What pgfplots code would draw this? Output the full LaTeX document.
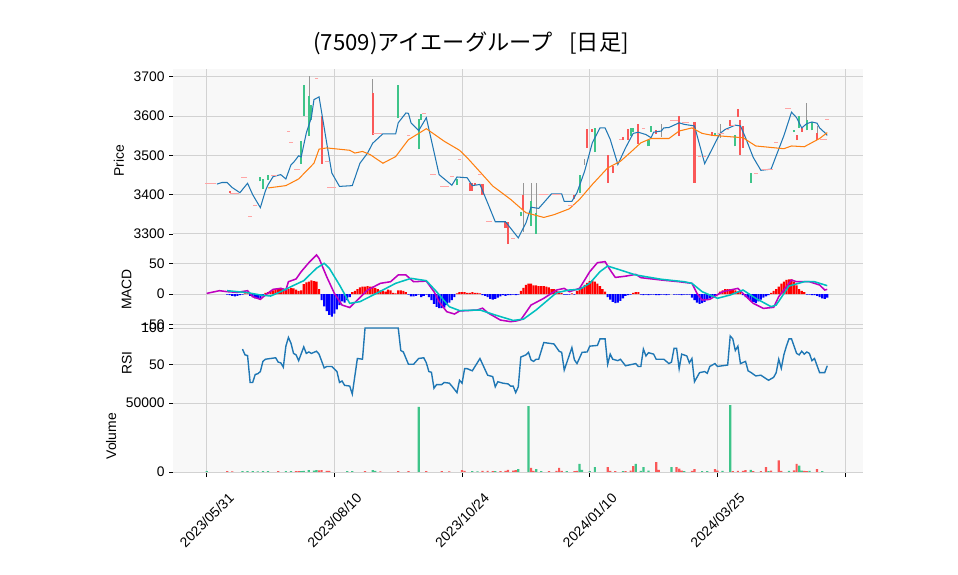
\documentclass[border=0pt]{standalone}
\usepackage{fontspec}
\setmainfont{Liberation Sans}
\newfontfamily\jp{Noto Sans CJK JP}
\usepackage{pgfplots}
\pgfplotsset{compat=1.18}
\definecolor{upg}{RGB}{62,196,137}
\definecolor{dnr}{RGB}{250,88,88}
\definecolor{flat}{RGB}{255,165,165}
\definecolor{wick}{RGB}{150,150,150}
\definecolor{bg}{RGB}{248,248,248}
\definecolor{gridc}{RGB}{210,210,210}
\definecolor{smab}{RGB}{31,119,180}
\definecolor{smao}{RGB}{255,127,14}
\definecolor{macdc}{RGB}{191,0,191}
\definecolor{sigc}{RGB}{0,191,191}
\pgfplotsset{
 panel/.style={
  scale only axis, width=496.44pt, anchor=south west,
  xmin=-13.2, xmax=256.8,
  axis background/.style={fill=bg},
  axis line style={draw=none},
  grid=major, grid style={gridc, line width=0.7pt},
  xtick={0,50,100,150,200,250},
  ytick pos=left, xtick pos=left,
  tick align=outside, major tick length=2.6pt,
  tick style={black, line width=0.6pt},
  tick label style={font=\fontsize{10}{12}\selectfont},
  /pgf/number format/assume math mode=true,
  /pgf/number format/set thousands separator={},
  scaled y ticks=false,
  label style={font=\fontsize{10}{12}\selectfont},
 },
 noxlab/.style={xticklabels={}, major x tick style={draw=none}},
 body/.style={only marks, mark=*, mark size=0.01pt, mark options={draw opacity=0, fill opacity=0}, forget plot, error bars/.cd, y dir=plus, y explicit, error mark=none, error bar style={line width=1.5pt, color=#1, draw opacity=1}},
 wk/.style={only marks, mark=*, mark size=0.01pt, mark options={draw opacity=0, fill opacity=0}, forget plot, error bars/.cd, y dir=plus, y explicit, error mark=none, error bar style={line width=0.5pt, color=wick, draw opacity=1}},
}
\begin{document}
\begin{tikzpicture}
\path[use as bounding box] (0pt,0pt) rectangle (689.76pt,414pt);
\node[font=\jp\fontsize{16}{19}\selectfont] at (339.12pt,383.04pt) {(7509)アイエーグループ\hspace{0.75em}[日足]};
% ---------------- Price ----------------
\begin{axis}[panel, noxlab, at={(124.56pt,232.56pt)}, height=131.76pt,
  ymin=3254, ymax=3720, ytick={3300,3400,3500,3600,3700}, ylabel={Price}]
\addplot[only marks, mark=-, mark size=1.3pt, mark options={line width=0.5pt, color=flat}, forget plot] table {
0 3430
1 3430
2 3430
3 3430
10 3404
11 3404
12 3404
14 3445
15 3445
17 3346
19 3373
26 3449
27 3449
32 3560
33 3534
35 3465
36 3465
43 3695
47 3485
48 3419
49 3419
50 3419
66 3555
67 3555
68 3555
79 3551
85 3608
88 3451
89 3451
92 3422
93 3422
94 3422
96 3447
99 3491
107 3451
110 3331
111 3331
120 3290
131 3400
132 3400
133 3400
136 3400
137 3400
138 3400
142 3372
143 3372
162 3542
171 3570
182 3590
183 3590
184 3590
187 3583
188 3583
193 3498
195 3498
201 3556
202 3556
204 3566
206 3576
215 3455
218 3464
219 3464
220 3464
221 3464
223 3532
227 3619
228 3619
241 3540
242 3540
243 3591
};
\addplot[wk] table[x index=0, y index=1, y error index=2] {
40 3591 111
65 3659 36
124 3305 125
127 3383 47
129 3353 77
148 3476 14
178 3547 34
201 3545 36
235 3590 44
239 3556 20
};
\addplot[body=upg] table[x index=0, y index=1, y error index=2] {
21 3434 11
22 3415 26
24 3438 11
37 3479 57
38 3600 80
40 3549 102
41 3591 38
75 3595 85
83 3515 77
84 3590 16
98 3424 17
123 3345 11
127 3320 63
129 3300 53
146 3405 46
152 3508 62
166 3549 21
167 3559 11
173 3523 17
174 3559 15
199 3551 5
207 3523 28
213 3430 25
230 3559 6
232 3570 30
235 3564 26
237 3564 21
};
\addplot[body=dnr] table[x index=0, y index=1, y error index=2] {
9 3405 5
45 3479 121
65 3553 106
103 3410 20
104 3410 20
105 3424 6
108 3400 26
117 3315 15
118 3274 56
124 3362 38
144 3388 12
149 3519 47
151 3560 6
157 3430 72
159 3455 17
163 3539 7
165 3540 26
169 3530 50
176 3555 9
185 3549 51
191 3430 156
198 3549 11
205 3576 15
208 3598 21
209 3502 89
210 3519 56
231 3539 12
233 3560 10
239 3539 17
};
\addplot[smab, line width=0.75pt, mark=none] table {
4 3427
6 3431
8 3431
10 3418
13 3405
16 3429
18 3400
21 3367
23 3410
24 3425
26 3446
29 3451
31 3440
33 3476
34 3482
36 3499
37 3496
39 3557
41 3597
42 3642
44 3649
45 3610
47 3531
49 3455
52 3421
57 3423
60 3480
63 3506
65 3531
69 3555
74 3555
75 3583
78 3608
79 3607
80 3583
83 3563
86 3596
91 3451
96 3424
98 3445
102 3443
104 3423
107 3426
110 3379
113 3331
117 3331
122 3290
125 3328
127 3368
130 3365
135 3402
139 3402
140 3383
143 3383
145 3405
148 3460
151 3532
154 3570
156 3570
158 3541
161 3477
164 3519
167 3556
169 3559
172 3553
174 3545
175 3559
178 3562
179 3570
181 3571
185 3583
187 3579
190 3576
191 3575
195 3479
201 3556
203 3566
207 3577
209 3575
211 3545
214 3495
217 3462
221 3465
226 3550
229 3610
231 3596
233 3570
235 3581
237 3585
239 3582
240 3570
242 3558
243 3551
};
\addplot[smao, line width=0.75pt, mark=none] table {
24 3417
31 3423
36 3440
42 3480
44 3516
47 3519
56 3513
58 3506
61 3510
64 3502
69 3480
74 3497
77 3523
79 3540
86 3568
93 3536
99 3513
102 3494
108 3451
112 3422
119 3388
125 3354
132 3342
136 3349
142 3364
146 3388
151 3426
157 3468
162 3485
166 3508
170 3532
174 3543
181 3543
185 3562
190 3570
194 3556
198 3551
210 3545
215 3524
226 3517
229 3524
234 3522
240 3543
243 3558
};
\end{axis}
% ---------------- MACD ----------------
\begin{axis}[panel, noxlab, at={(124.56pt,178.56pt)}, height=54pt,
  ymin=-53.7, ymax=68.4, ytick={-50,0,50}, yticklabels={−50,0,50}, ylabel={MACD}]
\addplot[ybar, bar shift=0pt, bar width=1.5pt, fill=red, draw=none, forget plot] table {
15 1
16 1
23 2
24 3
25 5
26 6
27 8
28 9
29 10
30 9
31 7
32 8
33 10
34 9
35 7
36 5
37 6
38 16
39 19
40 20
41 22
42 21
43 20
44 8
57 3
58 5
59 8
60 11
61 12
62 12
63 13
64 12
65 12
66 10
67 8
68 6
69 5
70 4
71 7
72 6
73 2
74 1
75 6
76 6
77 5
78 3
98 1
99 3
100 3
101 3
102 2
103 2
104 3
105 2
106 2
107 1
123 5
124 10
125 15
126 17
127 17
128 14
129 14
130 13
131 13
132 13
133 12
134 11
135 8
136 8
137 5
138 4
139 2
143 1
145 5
146 8
147 11
148 15
149 18
150 21
151 22
152 20
153 17
154 13
155 8
156 4
167 2
168 3
169 3
201 4
202 6
203 8
204 8
205 8
206 7
207 6
208 4
209 3
221 2
222 5
223 8
224 12
225 17
226 20
227 23
228 24
229 24
230 20
231 14
232 8
233 5
234 3
};
\addplot[ybar, bar shift=0pt, bar width=1.5pt, fill=blue, draw=none, forget plot] table {
8 -1
9 -2
10 -3
11 -4
12 -3
13 -2
14 -1
17 -3
18 -5
19 -7
20 -8
21 -7
22 -4
45 -10
46 -20
47 -28
48 -34
49 -37
50 -32
51 -25
52 -18
53 -12
54 -14
55 -10
56 -5
79 -1
80 -4
81 -4
82 -3
83 -1
84 -5
85 -3
86 -1
87 -5
88 -10
89 -16
90 -21
91 -23
92 -23
93 -22
94 -18
95 -14
96 -10
97 -5
108 -2
109 -3
110 -5
111 -8
112 -9
113 -8
114 -6
115 -4
116 -2
117 -3
118 -2
119 -2
120 -1
121 -2
122 -1
140 -1
141 -1
142 -1
144 -1
157 -5
158 -9
159 -13
160 -15
161 -14
162 -11
163 -7
164 -3
165 -2
166 -1
170 -1
171 -2
172 -1
173 -2
174 -1
175 -1
176 -2
177 -2
178 -1
179 -1
180 -2
181 -1
183 -1
184 -1
185 -1
186 -2
187 -1
188 -1
189 -1
190 -6
191 -10
192 -14
193 -16
194 -15
195 -13
196 -10
197 -7
198 -5
199 -3
200 -1
210 -2
211 -5
212 -8
213 -11
214 -13
215 -15
216 -12
217 -9
218 -6
219 -4
220 -2
235 -1
236 -1
237 -2
238 -2
239 -3
240 -5
241 -7
242 -8
243 -6
};
\addplot[macdc, line width=1.1pt, mark=none] table {
0 1
5 5.4
8 3.8
12 2.7
16 5.4
18 -4.3
21 -8.7
23 -1.6
26 7.6
29 9.2
31 6.5
32 20
35 24.5
37 36.4
40 51
43 63.6
44 58
47 28
50 1
53 -18
56 -22
59 -9.8
63 6.5
68 17.4
72 20
75 31
78 31
81 20
86 21
89 3.8
91 -12.5
94 -28.8
97 -32.6
99 -27.7
106 -26
108 -23
110 -30.4
115 -42.4
119 -45
121 -44
123 -42
127 -18
132 -7
137 6.5
140 9.2
142 3.8
146 9.2
150 36.4
153 51
156 52.7
158 39
160 27
164 29
168 32
170 26.6
178 22.8
185 20
190 17.4
192 1
194 -9.8
197 -8.7
202 3.8
208 9.2
210 1
214 -15.2
218 -23.4
222 -21.7
224 -4.3
227 12
229 22.8
231 20
236 20
240 14.7
242 6.5
243 7.6
};
\addplot[sigc, line width=1.1pt, mark=none] table {
8 5.4
16 2.2
21 -1.6
25 -3.3
29 3.8
33 12
38 21.7
43 42
46 50
48 42
52 14.7
56 -15.2
60 -12.5
67 2.2
74 17.4
80 25.5
86 21.7
90 3.8
95 -20.7
99 -27
107 -26
113 -34.2
120 -43
124 -41
129 -26
137 2.2
142 6.5
146 7.6
150 17.4
154 36.4
157 45.6
162 39
168 31
178 24
187 20
190 17.4
194 3.8
200 -7
205 -1.6
210 6.5
215 -7
221 -20.6
223 -18
228 13
234 20
238 20
243 13.6
};
\end{axis}
% ---------------- RSI ----------------
\begin{axis}[panel, noxlab, at={(124.56pt,126.72pt)}, height=51.84pt,
  ymin=2.2, ymax=101.4, ytick={50,100}, ylabel={RSI}]
\addplot[smab, line width=1pt, mark=none] table {
14 71
15 63
16 62
17 25
18 25
19 36
20 37
21 40
22 54
23 57
25 58
27 59
28 53
29 52
30 46
31 75
32 87
33 79
34 65
35 63
36 55
38 74
39 65
40 67
41 65
43 68
44 64
46 45
47 47
49 47
51 40
52 25
53 27
54 21
56 20
57 9
59 58
61 57
62 100
75 100
76 69
77 67
79 50
81 50
83 58
85 59
86 52
87 40
88 39
89 17
90 22
92 22
93 25
95 24
96 20
98 11
99 28
100 24
101 44
102 44
104 41
107 58
110 35
111 34
112 33
113 19
114 26
116 24
118 23
119 20
120 20
121 11
122 19
123 60
125 63
126 66.5
127 56
128 54
129 57
130 57
132 80
134 79
136 78
138 68
139 66.5
140 42
143 73
144 56
145 51
147 66.5
149 67
150 75
153 76
154 85
156 85
157 50
158 64
159 57
161 55
162 57
164 48
168 51
169 47
170 47
171 71
172 61.5
173 66
175 64
176 57
179 57
181 51
182 53
183 72
184 72
185 44
186 64
188 61.5
189 52
190 58
191 26
193 38.5
195 40
196 37.6
197 47
199 51
200 47
204 49
205 89
206 85
207 69
208 75
209 51
211 54
212 41
213 39
215 34
217 35
220 28
222 32
223 38.5
224 57
225 44.5
226 63
227 75
228 85
229 85
231 65
232 63
233 68
234 64
235 67
236 65
237 55
238 58
240 38.5
242 38.5
243 48
};
\end{axis}
% ---------------- Volume ----------------
\begin{axis}[panel, at={(124.56pt,73.08pt)}, height=53.64pt,
  ymin=-1087, ymax=52900, ytick={0,50000}, ylabel={Volume},
  xticklabels={2023/05/31,2023/08/10,2023/10/24,2024/01/10,2024/03/25,},
  xticklabel style={yshift=-31pt, rotate=45, anchor=center}]
\addplot[ybar, bar shift=0pt, bar width=1.6pt, fill=upg, draw=none, forget plot] table {
0 700
14 700
16 600
18 700
20 500
22 700
24 600
31 600
33 600
37 700
38 800
40 1300
42 1000
43 1400
55 700
57 600
65 1300
66 800
83 47100
104 700
106 500
113 600
122 2000
126 47800
129 2000
131 700
141 600
146 5800
147 1500
150 600
152 3600
163 600
168 5800
170 800
171 3600
173 1000
182 3600
187 700
194 700
196 600
202 800
205 48500
213 1500
220 600
228 900
232 4600
233 1000
236 800
241 700
};
\addplot[ybar, bar shift=0pt, bar width=1.6pt, fill=dnr, draw=none, forget plot] table {
8 600
10 500
28 600
35 600
36 700
44 1100
45 1300
47 900
48 800
62 600
68 500
75 600
79 600
86 600
92 700
95 500
100 1300
101 900
108 800
110 900
112 600
115 600
117 900
118 1500
120 1000
121 1300
127 3000
128 900
134 600
137 900
138 3000
139 900
144 700
145 800
157 3600
158 800
160 600
164 700
166 1000
167 4300
176 7200
177 1500
184 3600
185 2500
186 1000
190 900
191 2000
199 2000
200 1000
206 700
208 900
210 800
211 1300
214 700
217 600
219 3600
221 1000
224 8500
225 900
230 1200
231 5800
234 800
235 700
239 2000
};
\end{axis}
\end{tikzpicture}
\end{document}
